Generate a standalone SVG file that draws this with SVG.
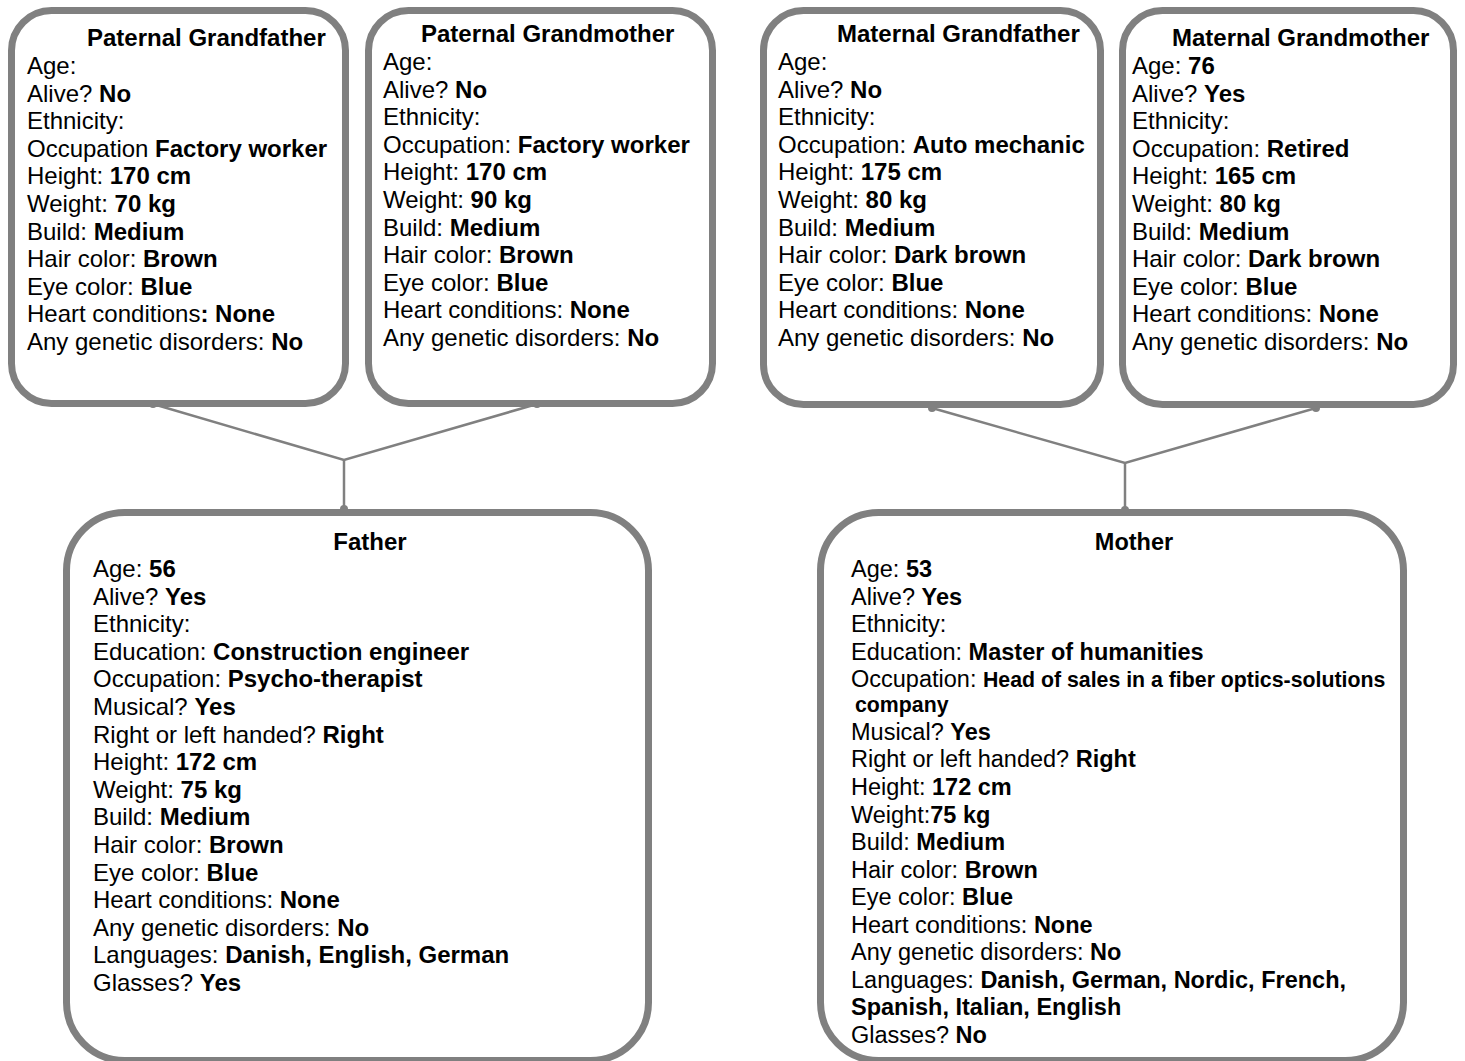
<svg xmlns="http://www.w3.org/2000/svg" width="1465" height="1061" viewBox="0 0 1465 1061">
<style>
.box{fill:#fff;stroke:#808080;stroke-width:7}
.t{font-family:"Liberation Sans",Arial,sans-serif;font-size:24px;fill:#000}
.p{font-family:"Liberation Sans",Arial,sans-serif;font-size:24px;fill:#000}
.m{font-family:"Liberation Sans",Arial,sans-serif;font-size:23.5px;fill:#000}
.b{font-weight:bold}
.s{font-size:21.3px;font-weight:bold}
.c{stroke:#808080;stroke-width:2.5;fill:none}
.d{fill:#808080}
</style>
<rect width="1465" height="1061" fill="#fff"/>
<g id="connectors">
<polyline class="c" points="153,404 344,460 537,404"/>
<line class="c" x1="344" y1="460" x2="344" y2="510"/>
<polyline class="c" points="932,408 1125,463 1316,408"/>
<line class="c" x1="1125" y1="463" x2="1125" y2="511"/>
<circle class="d" cx="153" cy="404" r="4"/>
<circle class="d" cx="537" cy="404" r="4"/>
<circle class="d" cx="344" cy="509" r="4"/>
<circle class="d" cx="932" cy="408" r="4"/>
<circle class="d" cx="1316" cy="408" r="4"/>
<circle class="d" cx="1125" cy="510" r="4"/>
</g>
<g id="paternal-grandfather">
<rect class="box" x="11.5" y="10.5" width="334" height="393" rx="40"/>
<text class="t b" x="87" y="46">Paternal Grandfather</text>
<text class="t" x="27" y="74">Age:</text>
<text class="t" x="27" y="101.6">Alive? <tspan class="b">No</tspan></text>
<text class="t" x="27" y="129.2">Ethnicity:</text>
<text class="t" x="27" y="156.8">Occupation <tspan class="b">Factory worker</tspan></text>
<text class="t" x="27" y="184.4">Height: <tspan class="b">170 cm</tspan></text>
<text class="t" x="27" y="212">Weight: <tspan class="b">70 kg</tspan></text>
<text class="t" x="27" y="239.6">Build: <tspan class="b">Medium</tspan></text>
<text class="t" x="27" y="267.2">Hair color: <tspan class="b">Brown</tspan></text>
<text class="t" x="27" y="294.8">Eye color: <tspan class="b">Blue</tspan></text>
<text class="t" x="27" y="322.4">Heart conditions<tspan class="b">: None</tspan></text>
<text class="t" x="27" y="350">Any genetic disorders: <tspan class="b">No</tspan></text>
</g>
<g id="paternal-grandmother">
<rect class="box" x="368.5" y="10.5" width="344" height="393" rx="40"/>
<text class="t b" x="421" y="42">Paternal Grandmother</text>
<text class="t" x="383" y="70">Age:</text>
<text class="t" x="383" y="97.6">Alive? <tspan class="b">No</tspan></text>
<text class="t" x="383" y="125.2">Ethnicity:</text>
<text class="t" x="383" y="152.8">Occupation: <tspan class="b">Factory worker</tspan></text>
<text class="t" x="383" y="180.4">Height: <tspan class="b">170 cm</tspan></text>
<text class="t" x="383" y="208">Weight: <tspan class="b">90 kg</tspan></text>
<text class="t" x="383" y="235.6">Build: <tspan class="b">Medium</tspan></text>
<text class="t" x="383" y="263.2">Hair color: <tspan class="b">Brown</tspan></text>
<text class="t" x="383" y="290.8">Eye color: <tspan class="b">Blue</tspan></text>
<text class="t" x="383" y="318.4">Heart conditions: <tspan class="b">None</tspan></text>
<text class="t" x="383" y="346">Any genetic disorders: <tspan class="b">No</tspan></text>
</g>
<g id="maternal-grandfather">
<rect class="box" x="763.5" y="10.5" width="337" height="394" rx="40"/>
<text class="t b" x="837" y="42">Maternal Grandfather</text>
<text class="t" x="778" y="70">Age:</text>
<text class="t" x="778" y="97.6">Alive? <tspan class="b">No</tspan></text>
<text class="t" x="778" y="125.2">Ethnicity:</text>
<text class="t" x="778" y="152.8">Occupation: <tspan class="b">Auto mechanic</tspan></text>
<text class="t" x="778" y="180.4">Height: <tspan class="b">175 cm</tspan></text>
<text class="t" x="778" y="208">Weight: <tspan class="b">80 kg</tspan></text>
<text class="t" x="778" y="235.6">Build: <tspan class="b">Medium</tspan></text>
<text class="t" x="778" y="263.2">Hair color: <tspan class="b">Dark brown</tspan></text>
<text class="t" x="778" y="290.8">Eye color: <tspan class="b">Blue</tspan></text>
<text class="t" x="778" y="318.4">Heart conditions: <tspan class="b">None</tspan></text>
<text class="t" x="778" y="346">Any genetic disorders: <tspan class="b">No</tspan></text>
</g>
<g id="maternal-grandmother">
<rect class="box" x="1122.5" y="10.5" width="331" height="394" rx="40"/>
<text class="t b" x="1172" y="46">Maternal Grandmother</text>
<text class="t" x="1132" y="74">Age: <tspan class="b">76</tspan></text>
<text class="t" x="1132" y="101.6">Alive? <tspan class="b">Yes</tspan></text>
<text class="t" x="1132" y="129.2">Ethnicity:</text>
<text class="t" x="1132" y="156.8">Occupation: <tspan class="b">Retired</tspan></text>
<text class="t" x="1132" y="184.4">Height: <tspan class="b">165 cm</tspan></text>
<text class="t" x="1132" y="212">Weight: <tspan class="b">80 kg</tspan></text>
<text class="t" x="1132" y="239.6">Build: <tspan class="b">Medium</tspan></text>
<text class="t" x="1132" y="267.2">Hair color: <tspan class="b">Dark brown</tspan></text>
<text class="t" x="1132" y="294.8">Eye color: <tspan class="b">Blue</tspan></text>
<text class="t" x="1132" y="322.4">Heart conditions: <tspan class="b">None</tspan></text>
<text class="t" x="1132" y="350">Any genetic disorders: <tspan class="b">No</tspan></text>
</g>
<g id="father">
<rect class="box" x="66.5" y="512.5" width="582" height="548" rx="58"/>
<text class="p b" x="370" y="550" text-anchor="middle">Father</text>
<text class="p" x="93" y="577">Age: <tspan class="b">56</tspan></text>
<text class="p" x="93" y="604.6">Alive? <tspan class="b">Yes</tspan></text>
<text class="p" x="93" y="632.2">Ethnicity:</text>
<text class="p" x="93" y="659.8">Education: <tspan class="b">Construction engineer</tspan></text>
<text class="p" x="93" y="687.4">Occupation: <tspan class="b">Psycho-therapist</tspan></text>
<text class="p" x="93" y="715">Musical? <tspan class="b">Yes</tspan></text>
<text class="p" x="93" y="742.6">Right or left handed? <tspan class="b">Right</tspan></text>
<text class="p" x="93" y="770.2">Height: <tspan class="b">172 cm</tspan></text>
<text class="p" x="93" y="797.8">Weight: <tspan class="b">75 kg</tspan></text>
<text class="p" x="93" y="825.4">Build: <tspan class="b">Medium</tspan></text>
<text class="p" x="93" y="853">Hair color: <tspan class="b">Brown</tspan></text>
<text class="p" x="93" y="880.6">Eye color: <tspan class="b">Blue</tspan></text>
<text class="p" x="93" y="908.2">Heart conditions: <tspan class="b">None</tspan></text>
<text class="p" x="93" y="935.8">Any genetic disorders: <tspan class="b">No</tspan></text>
<text class="p" x="93" y="963.4">Languages: <tspan class="b">Danish, English, German</tspan></text>
<text class="p" x="93" y="991">Glasses? <tspan class="b">Yes</tspan></text>
</g>
<g id="mother">
<rect class="box" x="820.5" y="512.5" width="583" height="548" rx="58"/>
<text class="m b" x="1134" y="550" text-anchor="middle">Mother</text>
<text class="m" x="851" y="577">Age: <tspan class="b">53</tspan></text>
<text class="m" x="851" y="604.6">Alive? <tspan class="b">Yes</tspan></text>
<text class="m" x="851" y="632.2">Ethnicity:</text>
<text class="m" x="851" y="659.8">Education: <tspan class="b">Master of humanities</tspan></text>
<text class="m" x="851" y="687.4">Occupation: <tspan class="s">Head of sales in a fiber optics-solutions</tspan></text>
<text class="m s" x="855" y="712">company</text>
<text class="m" x="851" y="740">Musical? <tspan class="b">Yes</tspan></text>
<text class="m" x="851" y="767">Right or left handed? <tspan class="b">Right</tspan></text>
<text class="m" x="851" y="795">Height: <tspan class="b">172 cm</tspan></text>
<text class="m" x="851" y="822.5">Weight:<tspan class="b">75 kg</tspan></text>
<text class="m" x="851" y="850">Build: <tspan class="b">Medium</tspan></text>
<text class="m" x="851" y="877.5">Hair color: <tspan class="b">Brown</tspan></text>
<text class="m" x="851" y="905">Eye color: <tspan class="b">Blue</tspan></text>
<text class="m" x="851" y="932.5">Heart conditions: <tspan class="b">None</tspan></text>
<text class="m" x="851" y="960">Any genetic disorders: <tspan class="b">No</tspan></text>
<text class="m" x="851" y="987.5">Languages: <tspan class="b">Danish, German, Nordic, French,</tspan></text>
<text class="m b" x="851" y="1015">Spanish, Italian, English</text>
<text class="m" x="851" y="1042.5">Glasses? <tspan class="b">No</tspan></text>
</g>
</svg>
